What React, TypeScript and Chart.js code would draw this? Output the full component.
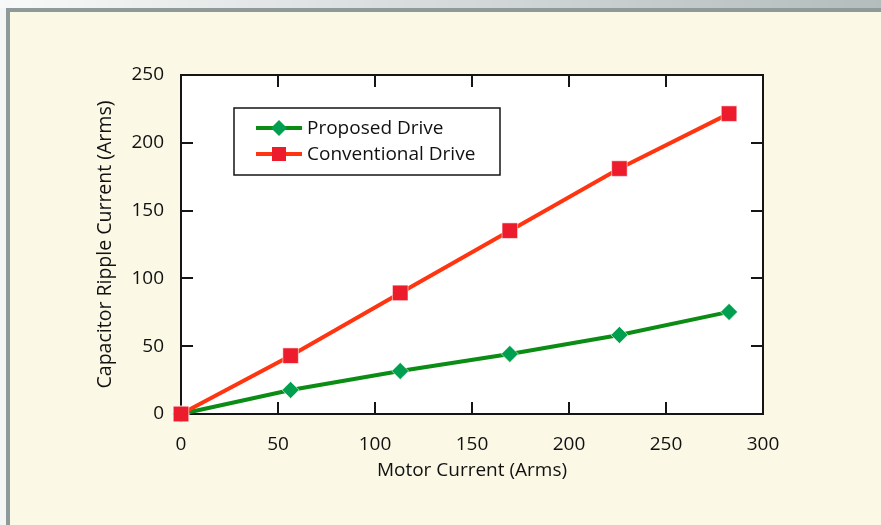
import React, { useEffect, useRef } from 'react';
import { Chart, registerables } from 'chart.js';

Chart.register(...registerables);

// ---- data ----
const motorCurrent = [0, 56.5, 113, 169.5, 226, 282.5];
const proposedRipple = [0, 17.7, 31.7, 44.3, 58.3, 75.3];
const conventionalRipple = [0, 43.0, 89.3, 135.2, 181.0, 221.5];
const xTickValues = [0, 50, 100, 150, 200, 250, 300];
const yTickValues = [0, 50, 100, 150, 200, 250];
const seriesNames = ['Proposed Drive', 'Conventional Drive'];
const xTitle = 'Motor Current (Arms)';
const yTitle = 'Capacitor Ripple Current (Arms)';

const FONT = "'Open Sans', 'DejaVu Sans', sans-serif";
const TEXT = '#111111';
const GREEN_LINE = '#0b8c14';
const GREEN_MARK = '#00a050';
const RED_LINE = '#ff3410';
const RED_MARK = '#ec1c2d';

function drawDiamond(ctx: CanvasRenderingContext2D, x: number, y: number, r: number, fill: string) {
  ctx.beginPath();
  ctx.moveTo(x, y - r);
  ctx.lineTo(x + r, y);
  ctx.lineTo(x, y + r);
  ctx.lineTo(x - r, y);
  ctx.closePath();
  ctx.fillStyle = fill;
  ctx.fill();
}

function drawSquare(ctx: CanvasRenderingContext2D, x: number, y: number, s: number, fill: string) {
  ctx.fillStyle = fill;
  ctx.fillRect(x - s / 2, y - s / 2, s, s);
}

const framePlugin = {
  id: 'frame',
  beforeDatasetsDraw(chart: any) {
    const { ctx, chartArea } = chart;
    const { left, right, top, bottom } = chartArea;
    const xs = chart.scales.x;
    const ys = chart.scales.y;
    ctx.save();
    ctx.strokeStyle = '#151515';
    ctx.lineWidth = 2;
    const tl = 12;
    ctx.beginPath();
    xTickValues.forEach((v) => {
      if (v === xTickValues[0] || v === xTickValues[xTickValues.length - 1]) return;
      const px = Math.round(xs.getPixelForValue(v));
      ctx.moveTo(px, bottom);
      ctx.lineTo(px, bottom - tl);
      ctx.moveTo(px, top);
      ctx.lineTo(px, top + tl);
    });
    yTickValues.forEach((v) => {
      if (v === yTickValues[0] || v === yTickValues[yTickValues.length - 1]) return;
      const py = Math.round(ys.getPixelForValue(v));
      ctx.moveTo(left, py);
      ctx.lineTo(left + tl, py);
      ctx.moveTo(right, py);
      ctx.lineTo(right - tl, py);
    });
    ctx.stroke();
    ctx.lineWidth = 2;
    ctx.strokeRect(left, top, right - left, bottom - top);
    ctx.restore();
  },
  beforeDraw(chart: any) {
    const { ctx, chartArea } = chart;
    ctx.save();
    ctx.fillStyle = '#ffffff';
    ctx.fillRect(chartArea.left, chartArea.top, chartArea.right - chartArea.left, chartArea.bottom - chartArea.top);
    ctx.restore();
  },
  afterDraw(chart: any) {
    const { ctx } = chart;
    ctx.save();
    const bx = 234, by = 108, bw = 266, bh = 67;
    ctx.fillStyle = '#ffffff';
    ctx.fillRect(bx, by, bw, bh);
    ctx.strokeStyle = '#151515';
    ctx.lineWidth = 1.5;
    ctx.strokeRect(bx, by, bw, bh);
    const rows = [
      { y: 128, line: GREEN_LINE, mark: GREEN_MARK, kind: 'diamond', label: seriesNames[0] },
      { y: 154, line: RED_LINE, mark: RED_MARK, kind: 'square', label: seriesNames[1] },
    ];
    rows.forEach((r) => {
      ctx.strokeStyle = r.line;
      ctx.lineWidth = 4;
      ctx.beginPath();
      ctx.moveTo(256, r.y);
      ctx.lineTo(302, r.y);
      ctx.stroke();
      if (r.kind === 'diamond') drawDiamond(ctx, 279, r.y, 8, r.mark);
      else drawSquare(ctx, 279, r.y, 14, r.mark);
      ctx.fillStyle = TEXT;
      ctx.font = `19px ${FONT}`;
      ctx.textBaseline = 'middle';
      ctx.textAlign = 'left';
      ctx.fillText(r.label, 307, r.y + 1);
    });
    ctx.restore();
  },
};

export default function App() {
  const canvasRef = useRef<HTMLCanvasElement | null>(null);

  useEffect(() => {
    if (!canvasRef.current) return;
    const chart = new Chart(canvasRef.current, {
      type: 'line',
      data: {
        datasets: [
          {
            label: seriesNames[0],
            data: motorCurrent.map((x, i) => ({ x, y: proposedRipple[i] })),
            borderColor: GREEN_LINE,
            borderWidth: 4,
            pointStyle: 'rectRot',
            pointRadius: 8.5,
            pointHoverRadius: 8.5,
            pointBackgroundColor: GREEN_MARK,
            pointBorderColor: 'rgba(255,255,255,0.55)',
            pointBorderWidth: 1,
            clip: false as any,
            order: 1,
            tension: 0,
          },
          {
            label: seriesNames[1],
            data: motorCurrent.map((x, i) => ({ x, y: conventionalRipple[i] })),
            borderColor: RED_LINE,
            borderWidth: 4,
            pointStyle: 'rect',
            pointRadius: 11,
            pointHoverRadius: 11,
            pointBackgroundColor: RED_MARK,
            pointBorderColor: 'rgba(255,255,255,0.55)',
            pointBorderWidth: 1,
            clip: false as any,
            order: 0,
            tension: 0,
          },
        ],
      },
      options: {
        animation: false,
        responsive: false,
        devicePixelRatio: 1,
        layout: { padding: { left: 0, right: 118, top: 75, bottom: 0 } },
        plugins: {
          legend: { display: false },
          tooltip: { enabled: false },
        },
        events: [],
        scales: {
          x: {
            type: 'linear',
            min: 0,
            max: 300,
            grid: { display: false },
            border: { display: false },
            afterBuildTicks: (scale: any) => {
              scale.ticks = xTickValues.map((v) => ({ value: v }));
            },
            afterFit: (scale: any) => {
              scale.height = 111;
            },
            ticks: {
              color: TEXT,
              font: { family: FONT, size: 19 },
              padding: 11,
              maxRotation: 0,
            },
            title: {
              display: true,
              text: xTitle,
              color: TEXT,
              font: { family: FONT, size: 19 },
              padding: { top: 0, bottom: 43 },
            },
          },
          y: {
            type: 'linear',
            min: 0,
            max: 250,
            grid: { display: false },
            border: { display: false },
            afterBuildTicks: (scale: any) => {
              scale.ticks = yTickValues.map((v) => ({ value: v }));
            },
            afterFit: (scale: any) => {
              scale.width = 181;
            },
            ticks: {
              color: TEXT,
              font: { family: FONT, size: 19 },
              padding: 9,
            },
            title: {
              display: true,
              text: yTitle,
              color: TEXT,
              font: { family: FONT, size: 19.5 },
              padding: { top: 93.5, bottom: 0 },
            },
          },
        },
      },
      plugins: [framePlugin],
    });
    return () => chart.destroy();
  }, []);

  return (
    <div
      style={{
        position: 'fixed',
        left: 0,
        top: 0,
        width: 881,
        height: 525,
        overflow: 'hidden',
        background: '#f4f5f5',
      }}
    >
      <div
        style={{
          position: 'absolute',
          left: 0,
          top: 0,
          width: 881,
          height: 8,
          background: 'linear-gradient(to right, #f8f9f9 0%, #d9dddd 45%, #b4bcbc 100%)',
        }}
      />
      <div
        style={{
          position: 'absolute',
          left: 6,
          top: 8,
          right: 0,
          bottom: 0,
          borderTop: '4px solid #8e9a9a',
          borderLeft: '4px solid #8e9a9a',
          background: '#fbf9e6',
        }}
      />
      <canvas
        ref={canvasRef}
        width={881}
        height={525}
        style={{ position: 'absolute', left: 0, top: 0, width: 881, height: 525 }}
      />
    </div>
  );
}
